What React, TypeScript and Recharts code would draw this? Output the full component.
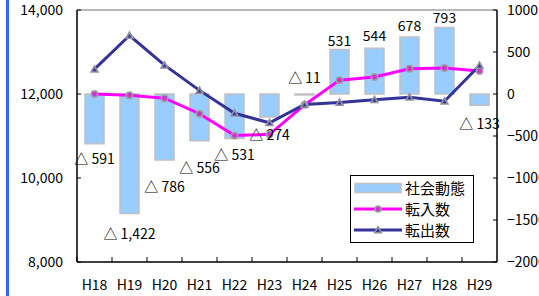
import React from 'react';
import { ComposedChart, Bar, Line, XAxis, YAxis, LabelList, ReferenceLine } from 'recharts';

const categories = ['H18', 'H19', 'H20', 'H21', 'H22', 'H23', 'H24', 'H25', 'H26', 'H27', 'H28', 'H29'];
const socialChange = [-591, -1422, -786, -556, -531, -274, -11, 531, 544, 678, 793, -133];
const moveIn = [12000, 11970, 11900, 11530, 11010, 11040, 11740, 12330, 12405, 12600, 12620, 12545];
const moveOut = [12591, 13392, 12686, 12086, 11541, 11314, 11751, 11799, 11861, 11922, 11827, 12678];
const leftTicks = [8000, 10000, 12000, 14000];
const rightTicks = [-2000, -1500, -1000, -500, 0, 500, 1000];

// label distance from bar end (style only)
const labelGap = [14, 20, 26, 26, 15, 17, -18, 9, 13, 12, 10, 18];

const FONT = '"Noto Sans CJK JP", "Noto Sans", sans-serif';

const data = categories.map((c, i) => ({
  cat: c,
  social: socialChange[i],
  moveIn: moveIn[i],
  moveOut: moveOut[i],
}));

const BarLabel = (props: any) => {
  const vb = props.viewBox || props;
  const x = vb.x ?? props.x;
  const y = vb.y ?? props.y;
  const width = vb.width ?? props.width;
  const height = vb.height ?? props.height;
  const value = Number(props.value);
  let index = props.index;
  if (index === undefined || index === null) index = socialChange.indexOf(value);
  const top = Math.min(y, y + height);
  const bottom = Math.max(y, y + height);
  const neg = value < 0;
  const end = neg ? bottom : top;
  const dir = neg ? 1 : -1;
  const cy = end + dir * labelGap[index];
  const text = neg ? `△ ${Math.abs(value).toLocaleString('en-US')}` : String(value);
  return (
    <text x={x + width / 2} y={cy} textAnchor="middle" dominantBaseline="central" fontSize={14} fill="#000" fontFamily={FONT}>
      {text}
    </text>
  );
};

const XTick = (props: any) => {
  const { x, y, payload } = props;
  const off = payload?.offset || 17.5;
  return (
    <g>
      <line x1={x - off} x2={x - off} y1={y} y2={y - 5} stroke="#000" />
      <text x={x} y={y + 22} textAnchor="middle" dominantBaseline="central" fontSize={14} fill="#000" fontFamily={FONT}>
        {payload.value}
      </text>
    </g>
  );
};

const CircleDot = (p: any) => {
  if (p.cx == null || p.cy == null) return <g key={p.key} />;
  return <circle key={p.key} cx={p.cx} cy={p.cy} r={3.2} fill="#CC33CC" stroke="#A0A0A0" strokeWidth={1.5} />;
};

const TriDot = (p: any) => {
  if (p.cx == null || p.cy == null) return <g key={p.key} />;
  const { cx, cy } = p;
  return (
    <g key={p.key}>
      <polygon points={`${cx},${cy - 5} ${cx - 4.8},${cy + 3.5} ${cx + 4.8},${cy + 3.5}`} fill="#9090A0" />
      <polygon points={`${cx},${cy - 1.5} ${cx - 2},${cy + 2} ${cx + 2},${cy + 2}`} fill="#333399" />
    </g>
  );
};

const LegendBox = () => {
  const rowStyle = (top: number): React.CSSProperties => ({
    position: 'absolute',
    left: 3,
    top,
    height: 20,
    display: 'flex',
    alignItems: 'center',
  });
  const text: React.CSSProperties = { marginLeft: 3, fontSize: 15, color: '#000', fontFamily: FONT, lineHeight: '20px', whiteSpace: 'nowrap' };
  return (
    <div style={{ position: 'absolute', left: 350, top: 175, width: 124, height: 68, border: '1px solid #000', boxSizing: 'border-box', background: '#fff' }}>
      <div style={rowStyle(2)}>
        <svg width={48} height={20}>
          <rect x={1} y={5.5} width={46} height={9} fill="#99CCFF" stroke="#C0C0C0" strokeWidth={1.5} />
        </svg>
        <span style={text}>社会動態</span>
      </div>
      <div style={rowStyle(23)}>
        <svg width={48} height={20}>
          <line x1={0} x2={48} y1={10} y2={10} stroke="#FF00FF" strokeWidth={3} />
          <circle cx={24} cy={10} r={3} fill="#CC33CC" stroke="#A0A0A0" strokeWidth={1.5} />
        </svg>
        <span style={text}>転入数</span>
      </div>
      <div style={rowStyle(44)}>
        <svg width={48} height={20}>
          <line x1={0} x2={48} y1={10} y2={10} stroke="#333399" strokeWidth={3} />
          <polygon points="24,5 19.2,13.5 28.8,13.5" fill="#9090A0" />
          <polygon points="24,8.5 22,12 26,12" fill="#333399" />
        </svg>
        <span style={text}>転出数</span>
      </div>
    </div>
  );
};

export default function App() {
  return (
    <div style={{ position: 'absolute', left: 0, top: 0, width: 539, height: 296, background: '#fff', overflow: 'hidden' }}>
      <div style={{ position: 'absolute', left: 6, top: 0, width: 3, height: 296, background: '#3366FF' }} />
      <div style={{ position: 'absolute', left: 0, top: 0 }}>
        <ComposedChart
          width={539}
          height={296}
          data={data}
          margin={{ top: 10, right: 0, bottom: 0, left: 0 }}
          style={{ fontFamily: FONT }}
          barCategoryGap={0}
        >
          <XAxis
            dataKey="cat"
            height={34}
            tickLine={false}
            tickSize={0}
            tickMargin={0}
            axisLine={{ stroke: '#000', strokeWidth: 1.5 }}
            tick={<XTick />}
            interval={0}
          />
          <YAxis
            yAxisId="left"
            orientation="left"
            width={77}
            domain={[8000, 14000]}
            ticks={leftTicks}
            allowDataOverflow
            tickFormatter={(v: number) => v.toLocaleString('en-US')}
            tickSize={-4}
            tickMargin={18}
            tick={{ fontSize: 14, fill: '#000', fontFamily: FONT }}
            axisLine={{ stroke: '#000', strokeWidth: 1.5 }}
            tickLine={{ stroke: '#000' }}
          />
          <YAxis
            yAxisId="right"
            orientation="right"
            width={42}
            domain={[-2000, 1000]}
            ticks={rightTicks}
            allowDataOverflow
            tickFormatter={(v: number) => (v < 0 ? '\u2212' + Math.abs(v) : String(v))}
            tickSize={-4}
            tickMargin={14}
            tick={{ fontSize: 14, fill: '#000', fontFamily: FONT, textAnchor: 'start' }}
            axisLine={{ stroke: '#000', strokeWidth: 1.5 }}
            tickLine={{ stroke: '#000' }}
          />
          <ReferenceLine yAxisId="left" y={14000} stroke="#A0A0A0" strokeWidth={1.5} />
          <Bar
            yAxisId="right"
            dataKey="social"
            name="社会動態"
            fill="#99CCFF"
            stroke="#C0C0C0"
            strokeWidth={1.5}
            barSize={19}
            isAnimationActive={false}
          >
            <LabelList dataKey="social" content={<BarLabel />} />
          </Bar>
          <Line
            yAxisId="left"
            dataKey="moveIn"
            name="転入数"
            stroke="#FF00FF"
            strokeWidth={3}
            dot={CircleDot}
            activeDot={false}
            isAnimationActive={false}
          />
          <Line
            yAxisId="left"
            dataKey="moveOut"
            name="転出数"
            stroke="#333399"
            strokeWidth={3}
            dot={TriDot}
            activeDot={false}
            isAnimationActive={false}
          />
        </ComposedChart>
      </div>
      <LegendBox />
    </div>
  );
}
